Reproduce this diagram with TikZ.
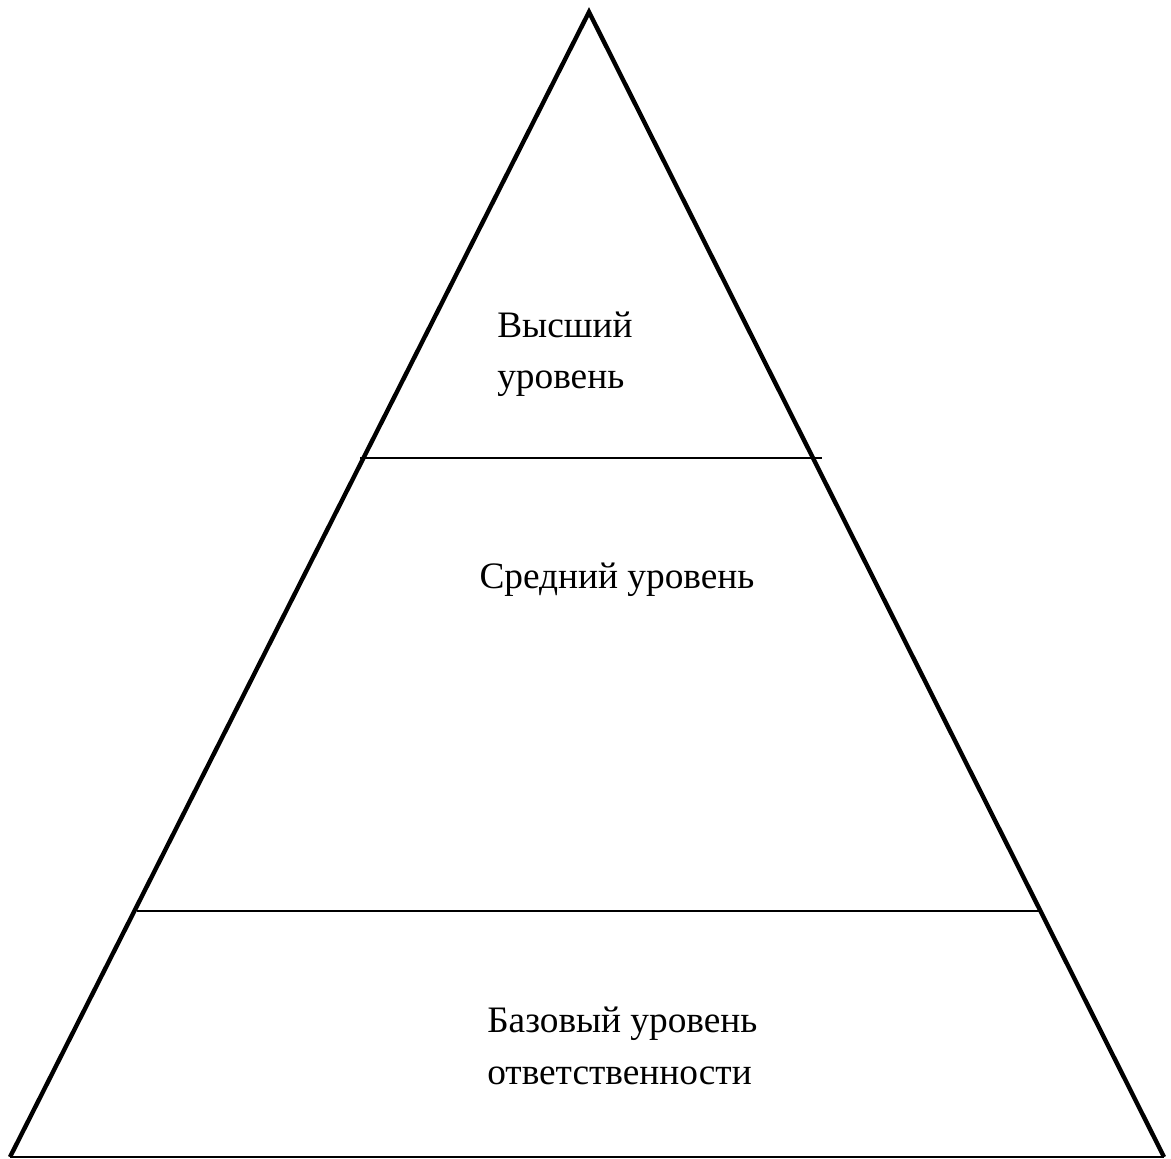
\documentclass[tikz,border=0pt]{standalone}
\usepackage{fontspec}
\setmainfont{Liberation Serif}
\begin{document}
\begin{tikzpicture}[x=0.75pt,y=-0.75pt,
  side/.style={line width=3.3pt,line join=miter},
  level/.style={line width=1.5pt},
  lbl/.style={font=\fontsize{28}{38.5}\selectfont,inner sep=0pt,align=left}]
\useasboundingbox (0,0) rectangle (1171,1159);
\coordinate (A) at (589,12);
\coordinate (L) at (10,1157);
\coordinate (R) at (1164,1157);
\draw[side] (L) -- (A) -- (R);
\draw[level] (L) -- (R);
\coordinate (l1a) at (360,458);
\coordinate (l1b) at (822,458);
\coordinate (l2a) at (137,911);
\coordinate (l2b) at (1042,911);
\draw[level] (l1a) -- (l1b);
\draw[level] (l2a) -- (l2b);
\node[lbl,anchor=west] (top) at (497,354) {Высший\\уровень};
\node[lbl] (mid) at (617,580) {Средний уровень};
\node[lbl,anchor=west] (base) at (487,1046) {Базовый уровень\\ответственности};
\end{tikzpicture}
\end{document}
